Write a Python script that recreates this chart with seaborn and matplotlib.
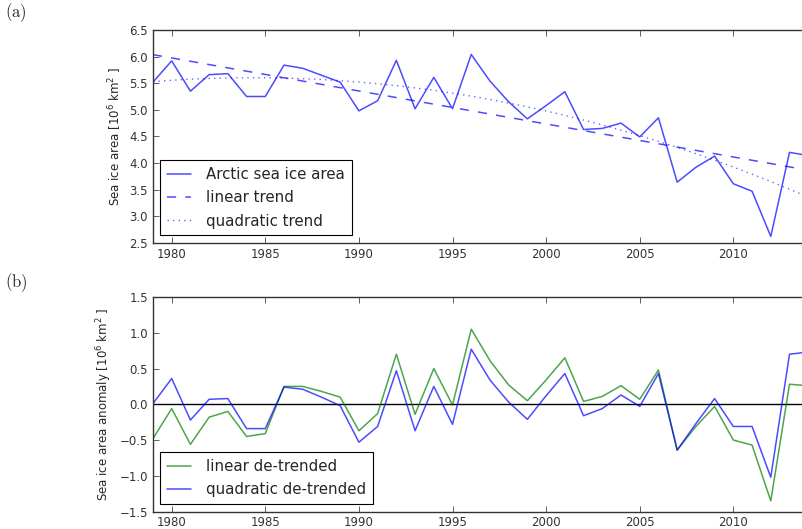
import numpy as np
import pandas as pd
import matplotlib
matplotlib.use("Agg")
import matplotlib.pyplot as plt
import seaborn as sns

years = list(range(1979, 2015))
sea_ice_area = [5.52, 5.92, 5.35, 5.66, 5.68, 5.25, 5.25, 5.84, 5.78, 5.65,
                5.52, 4.98, 5.17, 5.93, 5.02, 5.61, 5.02, 6.04, 5.54, 5.15,
                4.83, 5.08, 5.34, 4.63, 4.65, 4.75, 4.49, 4.85, 3.64, 3.92,
                4.13, 3.61, 3.47, 2.62, 4.20, 4.14]
linear_detrended = [-0.48, -0.06, -0.56, -0.18, -0.10, -0.45, -0.41, 0.25, 0.25, 0.18,
                    0.10, -0.37, -0.13, 0.70, -0.14, 0.50, -0.01, 1.05, 0.61, 0.27,
                    0.05, 0.34, 0.65, 0.04, 0.11, 0.26, 0.07, 0.48, -0.64, -0.31,
                    -0.03, -0.50, -0.57, -1.35, 0.28, 0.26]
quadratic_detrended = [0.01, 0.36, -0.22, 0.07, 0.08, -0.34, -0.34, 0.24, 0.21, 0.10,
                       -0.02, -0.53, -0.31, 0.47, -0.37, 0.25, -0.28, 0.77, 0.34, 0.03,
                       -0.21, 0.12, 0.43, -0.16, -0.06, 0.13, -0.03, 0.43, -0.64, -0.27,
                       0.08, -0.31, -0.31, -1.02, 0.70, 0.73]
xticks = [1980, 1985, 1990, 1995, 2000, 2005, 2010]

yr = np.array(years, dtype=float)
area = np.array(sea_ice_area)
lin_trend = np.polyval(np.polyfit(yr, area, 1), yr)
quad_trend = np.polyval(np.polyfit(yr, area, 2), yr)

df = pd.DataFrame({"year": yr, "area": area, "lin": lin_trend, "quad": quad_trend,
                   "ldt": linear_detrended, "qdt": quadratic_detrended})

sns.set_theme(style="ticks")
plt.rcParams.update({
    "font.family": ["DejaVu Sans"],
    "xtick.direction": "in", "ytick.direction": "in",
    "xtick.top": True, "ytick.right": True,
    "xtick.major.size": 4, "ytick.major.size": 4,
    "xtick.major.width": 0.6, "ytick.major.width": 0.6,
    "xtick.color": "#444444", "ytick.color": "#444444",
    "xtick.labelcolor": "#333333", "ytick.labelcolor": "#333333",
    "axes.edgecolor": "#333333", "axes.linewidth": 1.0,
    "xtick.labelsize": 8.5, "ytick.labelsize": 8.5,
})

fig = plt.figure(figsize=(8.03, 5.29), dpi=100)
ax1 = fig.add_axes([0.1905, 0.5410, 0.816, 0.4023])
ax2 = fig.add_axes([0.1905, 0.0329, 0.816, 0.4057])

blue = (0, 0, 1)
green = (0, 0.5, 0)

sns.lineplot(data=df, x="year", y="area", ax=ax1, color=blue, alpha=0.7, lw=1.1,
             label="Arctic sea ice area")
sns.lineplot(data=df, x="year", y="lin", ax=ax1, color=blue, alpha=0.7, lw=1.1,
             linestyle=(0, (6, 6)), label="linear trend")
sns.lineplot(data=df, x="year", y="quad", ax=ax1, color=blue, alpha=0.6, lw=1.0,
             linestyle=(0, (1, 3)), label="quadratic trend")
ax1.set_xlim(1979, 2014)
ax1.set_ylim(2.5, 6.5)
ax1.set_yticks(np.arange(2.5, 6.51, 0.5))
ax1.set_xticks(xticks)
ax1.set_xlabel("")
ax1.set_ylabel("Sea ice area [$10^6$ km$^2$ ]", fontsize=8.5)

leg_kw = dict(loc="lower left", fontsize=10.8, frameon=True, fancybox=False,
              edgecolor="black", framealpha=1, handlelength=1.6, handletextpad=1.0,
              borderaxespad=0.5, borderpad=0.45, labelspacing=0.55)
leg1 = ax1.legend(**leg_kw)
leg1.get_frame().set_linewidth(0.8)

ax2.axhline(0, color="black", lw=1.0)
sns.lineplot(data=df, x="year", y="ldt", ax=ax2, color=green, alpha=0.7, lw=1.1,
             label="linear de-trended")
sns.lineplot(data=df, x="year", y="qdt", ax=ax2, color=blue, alpha=0.7, lw=1.1,
             label="quadratic de-trended")
ax2.set_xlim(1979, 2014)
ax2.set_ylim(-1.5, 1.5)
ax2.set_yticks(np.arange(-1.5, 1.51, 0.5))
ax2.set_xticks(xticks)
ax2.set_xlabel("")
ax2.set_ylabel("Sea ice area anomaly [$10^6$ km$^2$ ]", fontsize=8.5)
leg2 = ax2.legend(**leg_kw)
leg2.get_frame().set_linewidth(0.8)

fig.text(0.006, 0.977, "$\\mathrm{(a)}$", fontsize=12, math_fontfamily="cm", va="center")
fig.text(0.006, 0.465, "$\\mathrm{(b)}$", fontsize=12, math_fontfamily="cm", va="center")

fig.savefig("out.png", dpi=100)
